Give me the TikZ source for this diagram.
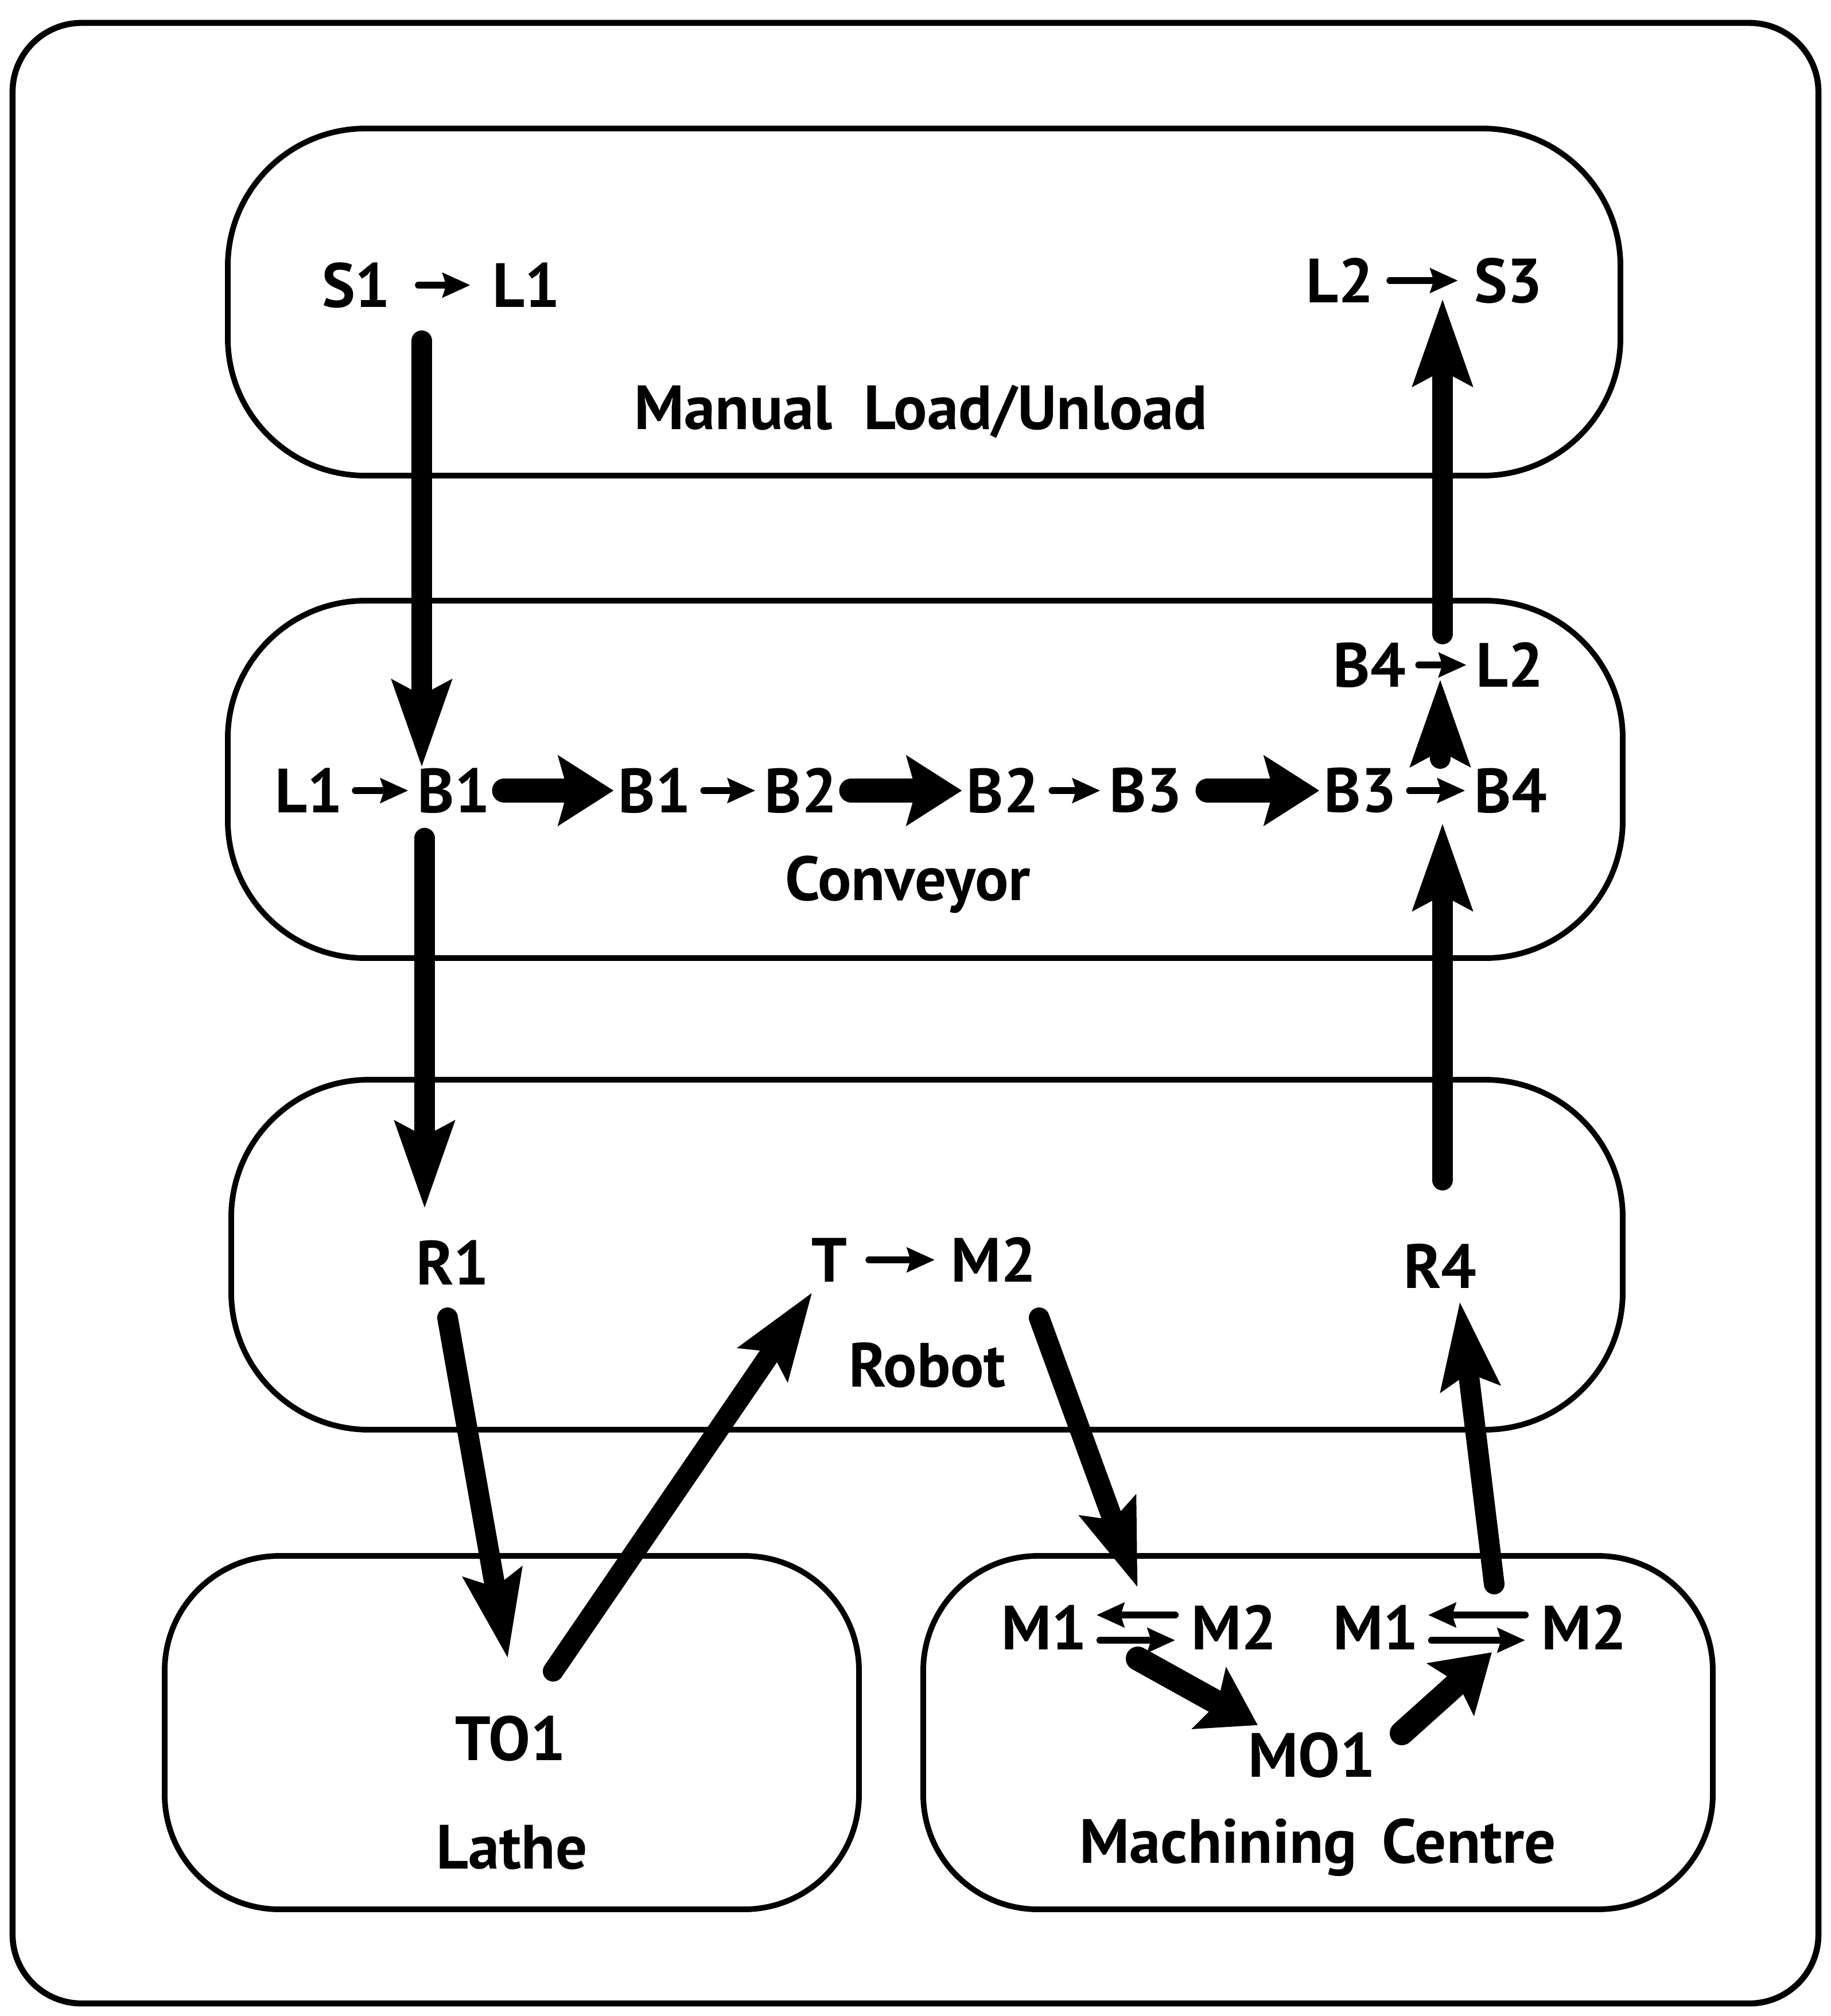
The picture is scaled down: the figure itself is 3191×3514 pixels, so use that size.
\documentclass[tikz,border=0pt]{standalone}
\usepackage{fontspec}
\setmainfont{PT Sans}
\usetikzlibrary{arrows.meta,positioning}

\begin{document}
\begin{tikzpicture}[
   x=0.05mm, y=-0.05mm,
   font=\bfseries\fontsize{15.5}{18}\selectfont,
   frame/.style={draw, line width=1.5pt, rounded corners=6mm},
   region/.style={draw, line width=1.4pt, rounded corners=12mm},
   cell/.style={draw, line width=1.4pt, rounded corners=10mm},
   tok/.style={inner sep=1pt},
   tiny/.style={-{Stealth[length=2.4mm, width=2.1mm, inset=0.3mm]}, line width=0.6mm,
      line cap=round, shorten <=0.7mm, shorten >=0.4mm},
   flow/.style={-{Stealth[length=7.5mm, width=5mm, inset=1.2mm]},
      line width=1.8mm, line cap=round},
   push/.style={-{Stealth[length=4.8mm, width=6mm, inset=0.8mm]},
      line width=2.1mm, line cap=round, shorten <=0.8mm}
]
\useasboundingbox (0,0) rectangle (3191,3514);

% frame and stations
\node[frame, minimum width=157.35mm, minimum height=172.6mm] (frame) at (1595.5,1766) {};
\node[region, minimum width=121.35mm, minimum height=30.25mm] (manual) at (1610.5,526.5) {};
\node[region, minimum width=121.55mm, minimum height=31.15mm] (conveyor) at (1612.5,1358.5) {};
\node[region, minimum width=121.25mm, minimum height=30.5mm] (robot) at (1615.5,2187) {};
\node[cell, minimum width=60.5mm, minimum height=30.8mm] (lathe) at (892,3020) {};
\node[cell, minimum width=68.8mm, minimum height=30.8mm] (mc) at (2297,3020) {};

\node (manuallbl) at (1605,717) {Manual\hspace{0.5em}Load/Unload};
\node (conveyorlbl) at (1582,1542) {Conveyor};
\node (robotlbl) at (1616,2380) {Robot};
\node (lathelbl) at (892,3220) {Lathe};
\node (mclbl) at (2297,3220) {Machining\hspace{0.4em}Centre};

% transitions
\node[tok] (s1) at (621,497) {S1};
\node[tok] (l1a) at (917,497) {L1};
\node[tok] (l2a) at (2335,489) {L2};
\node[tok] (s3) at (2629,489) {S3};
\node[tok] (b4u) at (2387,1159) {B4};
\node[tok] (l2u) at (2631,1159) {L2};
\node[tok] (l1c) at (538,1378) {L1};
\node[tok] (b1c) at (791,1378) {B1};
\node[tok] (b1d) at (1141,1378) {B1};
\node[tok] (b2c) at (1396,1378) {B2};
\node[tok] (b2d) at (1748,1378) {B2};
\node[tok] (b3c) at (1997,1378) {B3};
\node[tok] (b3d) at (2371,1378) {B3};
\node[tok] (b4c) at (2633,1378) {B4};
\node[tok] (r1) at (789,2201) {R1};
\node[tok] (t) at (1445,2196) {T};
\node[tok] (m2r) at (1732,2196) {M2};
\node[tok] (r4) at (2510,2207) {R4};
\node[tok] (to1) at (890,3030) {TO1};
\node[tok] (m1a) at (1820,2837) {M1};
\node[tok] (m2a) at (2151,2837) {M2};
\node[tok] (m1b) at (2398,2837) {M1};
\node[tok] (m2b) at (2761,2837) {M2};
\node[tok] (mo1) at (2286,3059) {MO1};

\draw[tiny, shorten <=2mm, shorten >=1.5mm] (s1) -- (l1a);
\draw[tiny, shorten <=1mm, shorten >=1mm] (l2a) -- (s3);
\draw[tiny] (b4u) -- (l2u);
\draw[tiny] (l1c) -- (b1c);
\draw[tiny] (b1d) -- (b2c);
\draw[tiny] (b2d) -- (b3c);
\draw[tiny] (b3d) -- (b4c);
\draw[tiny, shorten <=1.5mm, shorten >=1mm] (t) -- (m2r);
\draw[tiny, shorten <=1mm] ([yshift=1.1mm]m2a.west) -- ([yshift=1.1mm]m1a.east);
\draw[tiny, shorten >=1mm] ([yshift=-1.1mm]m1a.east) -- ([yshift=-1.1mm]m2a.west);
\draw[tiny, shorten <=1mm] ([yshift=1.1mm]m2b.west) -- ([yshift=1.1mm]m1b.east);
\draw[tiny, shorten >=1mm] ([yshift=-1.1mm]m1b.east) -- ([yshift=-1.1mm]m2b.west);

% ends of the part flow
\coordinate (p1) at (735,594);   \coordinate (q1) at (735,1338);
\coordinate (p2) at (740,1461);  \coordinate (q2) at (740,2107);
\coordinate (p3) at (780,2297);  \coordinate (q3) at (885,2891);
\coordinate (p4) at (964,2913);  \coordinate (q4) at (1416,2252);
\coordinate (p5) at (1811,2297); \coordinate (q5) at (1983,2768);
\coordinate (p6) at (1983,2891); \coordinate (q6) at (2192,3007);
\coordinate (p7) at (2443,3021); \coordinate (q7) at (2600,2880);
\coordinate (p8) at (2604,2761); \coordinate (q8) at (2544,2268);
\coordinate (p9) at (2514,2057); \coordinate (q9) at (2514,1434);
\coordinate (p10) at (2510,1322); \coordinate (q10) at (2510,1183);
\coordinate (p11) at (2514,1105); \coordinate (q11) at (2514,520);

\draw[flow] (p1) -- (q1);
\draw[flow] (p2) -- (q2);
\draw[flow] (p3) -- (q3);
\draw[flow] (p4) -- (q4);
\draw[flow] (p5) -- (q5);
\draw[push, shorten <=0pt] (p6) -- (q6);
\draw[push, shorten <=0pt] (p7) -- (q7);
\draw[flow] (p8) -- (q8);
\draw[flow] (p9) -- (q9);
\draw[flow] (p10) -- (q10);
\draw[flow] (p11) -- (q11);
\draw[push] (b1c) -- (b1d);
\draw[push] (b2c) -- (b2d);
\draw[push, shorten <=1.8mm] (b3c) -- (b3d);
\end{tikzpicture}
\end{document}
